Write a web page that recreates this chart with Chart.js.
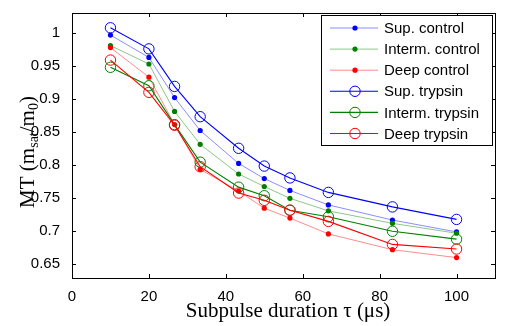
<!DOCTYPE html>
<html>
<head>
<meta charset="utf-8">
<script src="https://cdn.jsdelivr.net/npm/chart.js@4"></script>
<style>
  body { margin: 0; background: #fff; }
  canvas { display: block; }
</style>
</head>
<body>
<canvas id="chart" width="505" height="326"></canvas>
<script>
// Data
const durations = [10, 20, 26.67, 33.33, 43.33, 50, 56.67, 66.67, 83.33, 100];

const supControl    = [0.997, 0.963, 0.902, 0.852, 0.802, 0.779, 0.761, 0.739, 0.716, 0.698];
const intermControl = [0.981, 0.953, 0.881, 0.831, 0.786, 0.767, 0.749, 0.730, 0.711, 0.696];
const deepControl   = [0.978, 0.933, 0.861, 0.793, 0.760, 0.734, 0.719, 0.695, 0.671, 0.659];
const supTrypsin    = [1.008, 0.976, 0.919, 0.873, 0.825, 0.798, 0.780, 0.758, 0.736, 0.717];
const intermTrypsin = [0.948, 0.920, 0.861, 0.804, 0.766, 0.753, 0.731, 0.721, 0.699, 0.687];
const deepTrypsin   = [0.959, 0.910, 0.860, 0.797, 0.757, 0.746, 0.731, 0.714, 0.679, 0.672];

const seriesLabels = ['Sup. control', 'Interm. control', 'Deep control',
                      'Sup. trypsin', 'Interm. trypsin', 'Deep trypsin'];

const xTicks = [0, 20, 40, 60, 80, 100];
const yTicks = [0.65, 0.7, 0.75, 0.8, 0.85, 0.9, 0.95, 1];
const yTickLabels = ['0.65', '0.7', '0.75', '0.8', '0.85', '0.9', '0.95', '1'];

const SANS = '"Liberation Sans", Arial, sans-serif';
const SERIF = '"Liberation Serif", "Times New Roman", serif';

const pts = (ys) => durations.map((x, i) => ({ x: x, y: ys[i] }));

const controlSet = (label, ys, line, dot) => ({
    label, data: pts(ys),
    borderColor: line, borderWidth: 1,
    pointBackgroundColor: dot, pointBorderColor: dot,
    pointRadius: 2.6, pointBorderWidth: 0, pointStyle: 'circle'
});
const trypsinSet = (label, ys, col) => ({
    label, data: pts(ys),
    borderColor: col, borderWidth: 1.1,
    pointBackgroundColor: 'rgba(0,0,0,0)', pointBorderColor: col,
    pointRadius: 5.2, pointBorderWidth: 1, pointStyle: 'circle'
});

const datasets = [
    controlSet(seriesLabels[0], supControl, 'rgba(0,0,255,0.45)', '#0000ff'),
    controlSet(seriesLabels[1], intermControl, 'rgba(0,128,0,0.45)', '#008000'),
    controlSet(seriesLabels[2], deepControl, 'rgba(255,0,0,0.45)', '#ff0000'),
    trypsinSet(seriesLabels[3], supTrypsin, '#0000ff'),
    trypsinSet(seriesLabels[4], intermTrypsin, '#008000'),
    trypsinSet(seriesLabels[5], deepTrypsin, '#ff0000')
];
// later series on top, like the original
datasets.forEach((d, i) => { d.order = datasets.length - i; d.tension = 0; });

// box, inward ticks, axis titles and legend
const frame = {
    id: 'frame',
    afterDraw(chart) {
        const ctx = chart.ctx;
        const a = chart.chartArea;
        const xs = chart.scales.x, ys = chart.scales.y;
        const tl = 4;
        ctx.save();
        ctx.strokeStyle = '#000';
        ctx.lineWidth = 1;
        ctx.beginPath();
        xTicks.forEach(v => {
            const px = Math.round(xs.getPixelForValue(v)) + 0.5;
            ctx.moveTo(px, a.bottom); ctx.lineTo(px, a.bottom - tl);
            ctx.moveTo(px, a.top); ctx.lineTo(px, a.top + tl);
        });
        yTicks.forEach(v => {
            const py = Math.round(ys.getPixelForValue(v)) + 0.5;
            ctx.moveTo(a.left, py); ctx.lineTo(a.left + tl, py);
            ctx.moveTo(a.right, py); ctx.lineTo(a.right - tl, py);
        });
        ctx.stroke();
        ctx.strokeRect(Math.round(a.left) + 0.5, Math.round(a.top) + 0.5,
                       Math.round(a.right - a.left), Math.round(a.bottom - a.top));

        // x title
        ctx.fillStyle = '#000';
        ctx.font = '21px ' + SERIF;
        ctx.textAlign = 'center';
        ctx.textBaseline = 'alphabetic';
        ctx.fillText('Subpulse duration \u03c4 (\u03bcs)', 288, 317);

        // y title with subscripts
        const parts = [['MT (m', 21, 0], ['sat', 14, 4], ['/m', 21, 0], ['0', 14, 4], [')', 21, 0]];
        let w = 0;
        parts.forEach(p => { ctx.font = p[1] + 'px ' + SERIF; w += ctx.measureText(p[0]).width; });
        ctx.translate(34, 152);
        ctx.rotate(-Math.PI / 2);
        ctx.textAlign = 'left';
        let cx = -w / 2;
        parts.forEach(p => {
            ctx.font = p[1] + 'px ' + SERIF;
            ctx.fillText(p[0], cx, p[2]);
            cx += ctx.measureText(p[0]).width;
        });
        ctx.restore();

        // legend
        ctx.save();
        const lx = 321, ly = 15, lw = 171, lh = 130;
        ctx.fillStyle = '#fff';
        ctx.fillRect(lx, ly, lw, lh);
        ctx.strokeStyle = '#000';
        ctx.lineWidth = 1;
        ctx.strokeRect(lx + 0.5, ly + 0.5, lw, lh);
        ctx.font = '15px ' + SANS;
        ctx.textBaseline = 'middle';
        chart.data.datasets.forEach((d, i) => {
            const y = 28 + i * 21.1;
            ctx.strokeStyle = d.borderColor;
            ctx.lineWidth = d.borderWidth;
            ctx.beginPath();
            ctx.moveTo(330, y); ctx.lineTo(378, y);
            ctx.stroke();
            ctx.beginPath();
            ctx.arc(355, y, d.pointRadius, 0, Math.PI * 2);
            if (d.pointBorderWidth > 0) {
                ctx.strokeStyle = d.pointBorderColor;
                ctx.lineWidth = d.pointBorderWidth;
                ctx.stroke();
            } else {
                ctx.fillStyle = d.pointBackgroundColor;
                ctx.fill();
            }
            ctx.fillStyle = '#000';
            ctx.fillText(d.label, 384, y + 1);
        });
        ctx.restore();
    }
};

new Chart(document.getElementById('chart'), {
    type: 'line',
    data: { datasets },
    options: {
        responsive: false,
        animation: false,
        devicePixelRatio: 1,
        layout: { padding: { top: 7, right: 10, left: 0, bottom: 0 } },
        plugins: { legend: { display: false }, tooltip: { enabled: false } },
        scales: {
            x: {
                type: 'linear', min: 0, max: 110,
                grid: { display: false }, border: { display: false },
                afterBuildTicks: s => { s.ticks = xTicks.map(v => ({ value: v })); },
                afterFit: s => { s.height = 48; },
                ticks: { font: { family: SANS, size: 15 }, color: '#000', padding: 2, maxRotation: 0,
                         callback: v => String(v) }
            },
            y: {
                type: 'linear', min: 0.628, max: 1.0305,
                grid: { display: false }, border: { display: false },
                afterBuildTicks: s => { s.ticks = yTicks.map(v => ({ value: v })); },
                afterFit: s => { s.width = 72; },
                ticks: { font: { family: SANS, size: 15 }, color: '#000', padding: 4,
                         callback: (v, i) => yTickLabels[i] }
            }
        }
    },
    plugins: [frame]
});
</script>
</body>
</html>
